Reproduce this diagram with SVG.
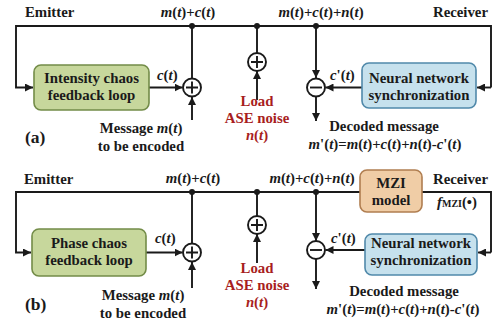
<svg xmlns="http://www.w3.org/2000/svg" width="493" height="325" viewBox="0 0 493 325">
<style>
.t{font-family:"Liberation Serif","Times New Roman",serif;font-weight:bold;font-size:14.8px;fill:#1a1a1a}
.c{text-anchor:middle}
.i{font-style:italic}
.r{fill:#a81e1e}
.ln{stroke:#1a1a1a;stroke-width:1.9;fill:none}
.ar{marker-end:url(#ah)}
.g{fill:#c7d79c;stroke:#738c48;stroke-width:1.6}
.b{fill:#c6e1ed;stroke:#5089aa;stroke-width:1.6}
.o{fill:#f0cda6;stroke:#b07e50;stroke-width:1.6}
.sum{fill:#fff;stroke:#1a1a1a;stroke-width:1.9}
.p{font-size:17.5px}
</style>
<defs>
<marker id="ah" markerUnits="userSpaceOnUse" markerWidth="9" markerHeight="8" refX="8" refY="4" orient="auto">
<path d="M0,0 L8,4 L0,8 z" fill="#1a1a1a"/>
</marker>
</defs>
<rect width="493" height="325" fill="#fff"/>

<!-- ===== Panel (a) ===== -->
<g id="connectors-a">
<path class="ln ar" d="M192,26 H16 V87.5 H33"/>
<path class="ln" d="M192,26 H491 V87.5"/>
<path class="ln ar" d="M491,87.5 H477"/>
<path class="ln" d="M192,26 V78.5"/>
<path class="ln ar" d="M149,87.5 H182.5"/>
<path class="ln ar" d="M192,120 V97"/>
<path class="ln ar" d="M257,100 V71"/>
<path class="ln" d="M257,26 V53"/>
<path class="ln ar" d="M316,26 V78"/>
<path class="ln ar" d="M362,87.5 H325.5"/>
<path class="ln ar" d="M316,96.5 V121"/>
<circle cx="192" cy="26" r="3" fill="#1a1a1a"/>
<circle cx="257" cy="26" r="3" fill="#1a1a1a"/>
<circle cx="316" cy="26" r="3" fill="#1a1a1a"/>
</g>
<g id="sum-a1"><circle class="sum" cx="192" cy="87.5" r="9"/><path class="ln" d="M186,87.5 H198 M192,81.5 V93.5"/></g>
<g id="sum-a2"><circle class="sum" cx="257" cy="62" r="9"/><path class="ln" d="M251,62 H263 M257,56 V68"/></g>
<g id="diff-a"><circle class="sum" cx="316" cy="87.5" r="9"/><path class="ln" d="M310,87.5 H322"/></g>
<g id="chaos-a"><rect class="g" x="34" y="65" width="115" height="45" rx="7"/>
<text class="t c" x="91.5" y="83">Intensity chaos</text><text class="t c" x="91.5" y="100">feedback loop</text></g>
<g id="nn-a"><rect class="b" x="362" y="63" width="114" height="45" rx="7"/>
<text class="t c" x="419" y="83">Neural network</text><text class="t c" x="419" y="100">synchronization</text></g>
<g id="labels-a">
<text class="t" x="25" y="17">Emitter</text>
<text class="t" x="488" y="17" text-anchor="end">Receiver</text>
<text class="t c" x="188" y="17"><tspan class="i">m</tspan>(<tspan class="i">t</tspan>)+<tspan class="i">c</tspan>(<tspan class="i">t</tspan>)</text>
<text class="t c" x="321" y="17"><tspan class="i">m</tspan>(<tspan class="i">t</tspan>)+<tspan class="i">c</tspan>(<tspan class="i">t</tspan>)+<tspan class="i">n</tspan>(<tspan class="i">t</tspan>)</text>
<text class="t" x="157" y="80"><tspan class="i">c</tspan>(<tspan class="i">t</tspan>)</text>
<text class="t" x="330" y="80"><tspan class="i">c</tspan>'(<tspan class="i">t</tspan>)</text>
<text class="t c" x="141" y="133">Message <tspan class="i">m</tspan>(<tspan class="i">t</tspan>)</text>
<text class="t c" x="141" y="151">to be encoded</text>
<text class="t p" x="25" y="143">(a)</text>
<text class="t c r" x="257" y="106">Load</text>
<text class="t c r" x="257" y="123">ASE noise</text>
<text class="t c r" x="257" y="140"><tspan class="i">n</tspan>(<tspan class="i">t</tspan>)</text>
<text class="t c" x="384" y="131">Decoded message</text>
<text class="t c" x="385" y="149"><tspan class="i">m</tspan>'(<tspan class="i">t</tspan>)=<tspan class="i">m</tspan>(<tspan class="i">t</tspan>)+<tspan class="i">c</tspan>(<tspan class="i">t</tspan>)+<tspan class="i">n</tspan>(<tspan class="i">t</tspan>)-<tspan class="i">c</tspan>'(<tspan class="i">t</tspan>)</text>
</g>

<!-- ===== Panel (b) ===== -->
<g id="connectors-b">
<path class="ln ar" d="M192,192 H16 V252.5 H31"/>
<path class="ln" d="M192,192 H360"/>
<path class="ln" d="M422,192 H491 V252.5"/>
<path class="ln ar" d="M491,252.5 H478"/>
<path class="ln" d="M192,192 V243.5"/>
<path class="ln ar" d="M146,252.5 H182.5"/>
<path class="ln ar" d="M192,288 V262"/>
<path class="ln ar" d="M257,263 V234"/>
<path class="ln" d="M257,192 V216"/>
<path class="ln ar" d="M316,192 V241"/>
<path class="ln ar" d="M365,250 H325.5"/>
<path class="ln ar" d="M316,259 V289"/>
<circle cx="192" cy="192" r="3" fill="#1a1a1a"/>
<circle cx="257" cy="192" r="3" fill="#1a1a1a"/>
<circle cx="316" cy="192" r="3" fill="#1a1a1a"/>
</g>
<g id="sum-b1"><circle class="sum" cx="192" cy="252.5" r="9"/><path class="ln" d="M186,252.5 H198 M192,246.5 V258.5"/></g>
<g id="sum-b2"><circle class="sum" cx="257" cy="225" r="9"/><path class="ln" d="M251,225 H263 M257,219 V231"/></g>
<g id="diff-b"><circle class="sum" cx="316" cy="250" r="9"/><path class="ln" d="M310,250 H322"/></g>
<g id="chaos-b"><rect class="g" x="32" y="229" width="114" height="47" rx="7"/>
<text class="t c" x="89" y="248">Phase chaos</text><text class="t c" x="89" y="265">feedback loop</text></g>
<g id="mzi-b"><rect class="o" x="360" y="170" width="62" height="42" rx="7"/>
<text class="t c" x="391" y="188">MZI</text><text class="t c" x="391" y="205">model</text></g>
<g id="nn-b"><rect class="b" x="365" y="234" width="112" height="41" rx="7"/>
<text class="t c" x="421" y="248">Neural network</text><text class="t c" x="421" y="265">synchronization</text></g>
<g id="labels-b">
<text class="t" x="24" y="184">Emitter</text>
<text class="t" x="488" y="184" text-anchor="end">Receiver</text>
<text class="t c" x="193" y="183"><tspan class="i">m</tspan>(<tspan class="i">t</tspan>)+<tspan class="i">c</tspan>(<tspan class="i">t</tspan>)</text>
<text class="t c" x="312" y="183"><tspan class="i">m</tspan>(<tspan class="i">t</tspan>)+<tspan class="i">c</tspan>(<tspan class="i">t</tspan>)+<tspan class="i">n</tspan>(<tspan class="i">t</tspan>)</text>
<text class="t" x="437" y="207"><tspan class="i">f</tspan><tspan style="font-size:10px">MZI</tspan>(•)</text>
<text class="t" x="155" y="243"><tspan class="i">c</tspan>(<tspan class="i">t</tspan>)</text>
<text class="t" x="331" y="243"><tspan class="i">c</tspan>'(<tspan class="i">t</tspan>)</text>
<text class="t c" x="143" y="300">Message <tspan class="i">m</tspan>(<tspan class="i">t</tspan>)</text>
<text class="t c" x="143" y="318">to be encoded</text>
<text class="t p" x="25" y="310">(b)</text>
<text class="t c r" x="257" y="273">Load</text>
<text class="t c r" x="257" y="290">ASE noise</text>
<text class="t c r" x="257" y="307"><tspan class="i">n</tspan>(<tspan class="i">t</tspan>)</text>
<text class="t c" x="404" y="296">Decoded message</text>
<text class="t c" x="403" y="314"><tspan class="i">m</tspan>'(<tspan class="i">t</tspan>)=<tspan class="i">m</tspan>(<tspan class="i">t</tspan>)+<tspan class="i">c</tspan>(<tspan class="i">t</tspan>)+<tspan class="i">n</tspan>(<tspan class="i">t</tspan>)-<tspan class="i">c</tspan>'(<tspan class="i">t</tspan>)</text>
</g>
</svg>
